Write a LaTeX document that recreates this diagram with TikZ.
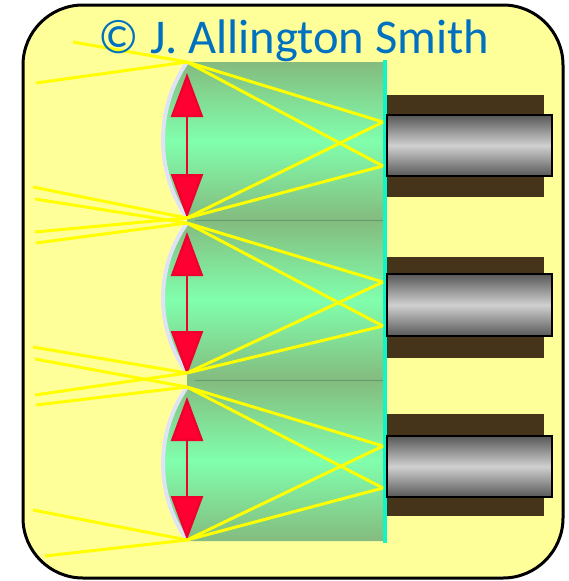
\documentclass[tikz,border=0pt]{standalone}
\usepackage{fontspec}
\newfontfamily\creditfont{Carlito}
\usetikzlibrary{arrows.meta}
\definecolor{paper}{HTML}{FFFF99}
\definecolor{credit}{HTML}{0070C0}
\definecolor{lensdark}{HTML}{84BB7E}
\definecolor{lensmint}{HTML}{80FFAC}
\definecolor{rim}{HTML}{E0E3F5}
\definecolor{ray}{HTML}{FFFF00}
\definecolor{focal}{HTML}{10F5C8}
\definecolor{arrowred}{HTML}{FF0033}
\definecolor{arrowedge}{HTML}{F0002E}
\definecolor{sleeve}{HTML}{45341A}
\definecolor{coredark}{HTML}{585858}
\definecolor{corelight}{HTML}{D0D0D0}
\definecolor{seam}{HTML}{5E9E70}
\tikzset{
  frame/.style={draw=black, line width=3pt, fill=paper, rounded corners=60pt},
  lensbody/.style={top color=lensdark, bottom color=lensdark, middle color=lensmint},
  lensrim/.style={draw=rim, line width=4pt},
  seamline/.style={draw=seam, line width=0.8pt},
  focalplane/.style={draw=focal, line width=4.5pt},
  lensarrow/.style={{Triangle[length=44pt,width=32pt,fill=arrowred]}-{Triangle[length=44pt,width=32pt,fill=arrowred]}, draw=arrowedge, line width=2.5pt},
  ray/.style={draw=ray, line width=3pt},
  sleevebox/.style={fill=sleeve, inner sep=0pt, minimum width=157pt},
  corebox/.style={draw=black, line width=2.8pt, top color=coredark, bottom color=coredark, middle color=corelight, inner sep=0pt, minimum width=165pt, minimum height=61pt},
  title/.style={font=\creditfont\fontsize{48.5}{52}\selectfont, text=credit, anchor=base}
}
\begin{document}
\begin{tikzpicture}[x=1pt,y=-1pt]
\useasboundingbox (0,0) rectangle (568,581);
\draw[frame] (23,5) rectangle (563,578);
\path[lensbody] (187,62) -- (385,62) -- (385,220) -- (187,220) -- (187,218) .. controls (155,171) and (155,109) .. (187,62) -- cycle;
\path[lensbody] (187,220) -- (385,220) -- (385,380) -- (187,380) -- (187,373) .. controls (155,328) and (155,268) .. (187,223) -- cycle;
\path[lensbody] (187,380) -- (385,380) -- (385,541) -- (187,541) -- (187,540) .. controls (155,494) and (155,433) .. (187,387) -- cycle;
\draw[seamline] (195,220) -- (385,220); \draw[seamline] (195,380) -- (385,380);
\draw[lensrim] (187,62) .. controls (155,109) and (155,171) .. (187,218);
\draw[lensrim] (187,223) .. controls (155,268) and (155,328) .. (187,373);
\draw[lensrim] (187,387) .. controls (155,433) and (155,494) .. (187,540);
\draw[focalplane] (385,60) -- (385,543);
\node[sleevebox, minimum height=102pt] (s1) at (465.5,146) {};
\node[sleevebox, minimum height=101pt] (s2) at (465.5,307.5) {};
\node[sleevebox, minimum height=102pt] (s3) at (465.5,465) {};
\node[corebox] (c1) at (469.5,145.5) {};
\node[corebox, minimum height=62pt] (c2) at (469.5,305) {};
\node[corebox] (c3) at (469.5,466.5) {};
\draw[lensarrow] (187,73) -- (187,218);
\draw[lensarrow] (187,232) -- (187,375);
\draw[lensarrow] (187,397) -- (187,540);
\coordinate (v1t) at (187,62); \coordinate (v1b) at (187,218);
\coordinate (v2t) at (187,223); \coordinate (v2b) at (187,373);
\coordinate (v3t) at (187,387); \coordinate (v3b) at (187,540);
\coordinate (f1a) at (383,122); \coordinate (f1b) at (383,166);
\coordinate (f2a) at (383,282); \coordinate (f2b) at (383,326);
\coordinate (f3a) at (383,446); \coordinate (f3b) at (383,488);
\coordinate (in1) at (73,42); \coordinate (in2) at (36,83);
\coordinate (in3) at (33,187); \coordinate (in4) at (35,199);
\coordinate (in5) at (35,232); \coordinate (in6) at (36,243);
\coordinate (in7) at (33,347); \coordinate (in8) at (35,359);
\coordinate (in9) at (35,395); \coordinate (in10) at (36,405);
\coordinate (in11) at (33,510); \coordinate (in12) at (45,556);
\draw[ray] (in1) -- (v1t); \draw[ray] (in2) -- (v1t);
\draw[ray] (in3) -- (v1b); \draw[ray] (in5) -- (v1b);
\draw[ray] (in4) -- (v2t); \draw[ray] (in6) -- (v2t);
\draw[ray] (in7) -- (v2b); \draw[ray] (in9) -- (v2b);
\draw[ray] (in8) -- (v3t); \draw[ray] (in10) -- (v3t);
\draw[ray] (in11) -- (v3b); \draw[ray] (in12) -- (v3b);
\draw[ray] (v1t) -- (f1a); \draw[ray] (v1t) -- (f1b); \draw[ray] (v1b) -- (f1a); \draw[ray] (v1b) -- (f1b);
\draw[ray] (v2t) -- (f2a); \draw[ray] (v2t) -- (f2b); \draw[ray] (v2b) -- (f2a); \draw[ray] (v2b) -- (f2b);
\draw[ray] (v3t) -- (f3a); \draw[ray] (v3t) -- (f3b); \draw[ray] (v3b) -- (f3a); \draw[ray] (v3b) -- (f3b);
\node[title] (credit) at (294,53) {© J. Allington Smith};
\end{tikzpicture}
\end{document}
